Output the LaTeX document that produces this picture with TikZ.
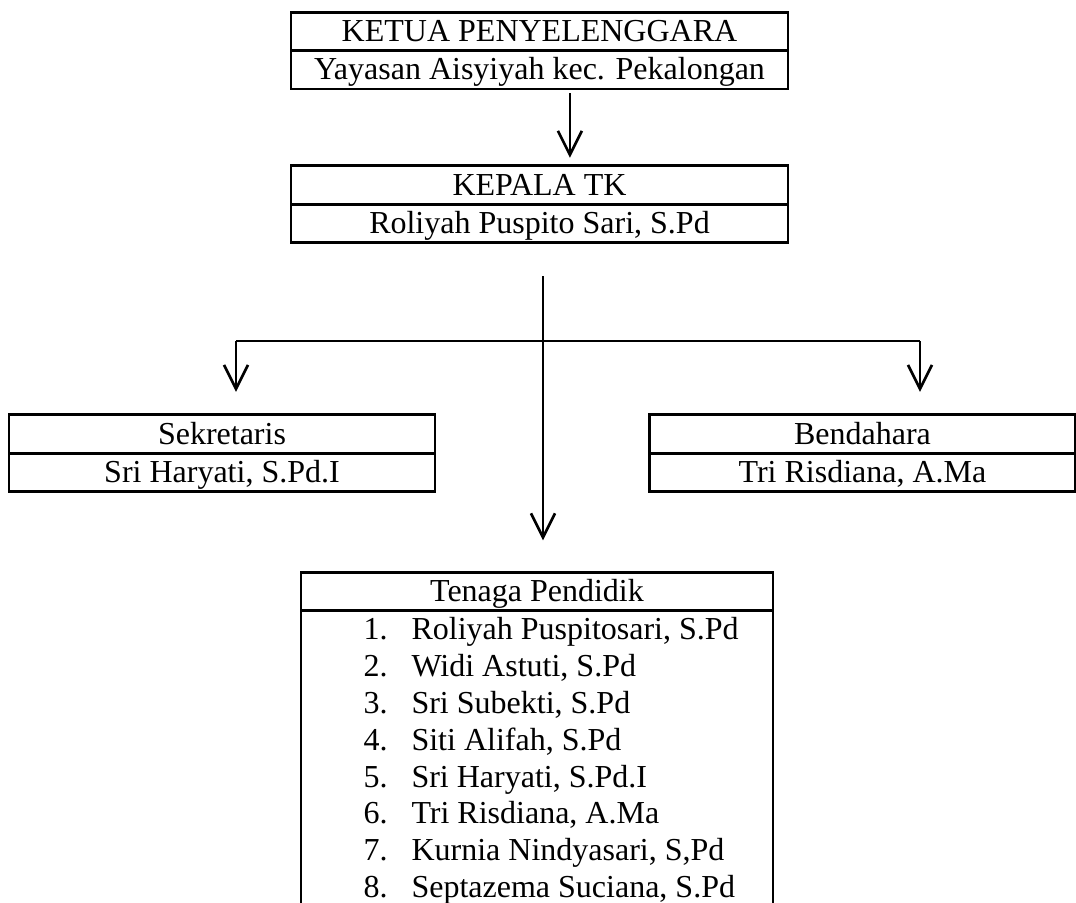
\documentclass[tikz,border=0pt]{standalone}
\usepackage{fontspec}
\setmainfont{Liberation Serif}
\usetikzlibrary{positioning,arrows.meta}
\tikzset{
  box/.style={draw, line width=1pt, outer sep=0pt, inner sep=0pt,
              minimum height=14.4pt, text height=9.5pt, text depth=2pt,
              font=\fontsize{12pt}{14pt}\selectfont},
  wide/.style={box, minimum width=186.4pt},
  side/.style={box, minimum width=159.75pt},
  guru/.style={box, minimum width=177pt},
  arr/.style={-{Straight Barb[length=9pt,width=9pt]}, line width=1pt},
  item/.style={anchor=base west, inner sep=0pt, font=\fontsize{12pt}{14pt}\selectfont}
}

\begin{document}
\begin{tikzpicture}[x=0.375pt,y=-0.375pt]
    \useasboundingbox (0,0) rectangle (1076,902);
    \clip (0,0) rectangle (1076,902);

    % boxes
    \node[wide] (ketuahead) at (539.5,31.5) {KETUA PENYELENGGARA};
    \node[wide, below=0pt of ketuahead] (ketuaname) {Yayasan Aisyiyah kec. Pekalongan};

    \node[wide] (kepalahead) at (539.5,185) {KEPALA TK};
    \node[wide, below=0pt of kepalahead] (kepalaname) {Roliyah Puspito Sari, S.Pd};

    \node[side] (sekhead) at (222,434) {Sekretaris};
    \node[side, below=0pt of sekhead] (sekname) {Sri Haryati, S.Pd.I};

    \node[side] (benhead) at (862.5,434) {Bendahara};
    \node[side, below=0pt of benhead] (benname) {Tri Risdiana, A.Ma};

    \node[guru] (guruhead) at (537,591.5) {Tenaga Pendidik};
    \node[guru, minimum height=120pt, below=0pt of guruhead] (gurubody) {};

    \foreach \nama [count=\i] in {{Roliyah Puspitosari, S.Pd},{Widi Astuti, S.Pd},
        {Sri Subekti, S.Pd},{Siti Alifah, S.Pd},{Sri Haryati, S.Pd.I},
        {Tri Risdiana, A.Ma},{Kurnia Nindyasari, S,Pd},{Septazema Suciana, S.Pd}}{
        \node[item] (no\i) at (363,603+36.8*\i) {\i.};
        \node[item] (guru\i) at (411,603+36.8*\i) {\nama};
    }

    % connectors
    \coordinate (top) at (543,276);
    \coordinate (fork) at (543,341);
    \coordinate (forkL) at (236,341);
    \coordinate (forkR) at (920,341);

    \draw[arr] ([xshift=11.4pt,yshift=-1.5pt]ketuaname.south) -- ([xshift=11.4pt,yshift=3pt]kepalahead.north);
    \draw[line width=1pt] (top) -- (fork);
    \draw[line width=1pt] (forkL) -- (forkR);
    \draw[arr] (fork) -- ([yshift=12pt]guruhead.north -| fork);
    \draw[arr] (forkL) -- ([yshift=8.6pt]sekhead.north -| forkL);
    \draw[arr] (forkR) -- ([yshift=8.6pt]benhead.north -| forkR);
\end{tikzpicture}
\end{document}
